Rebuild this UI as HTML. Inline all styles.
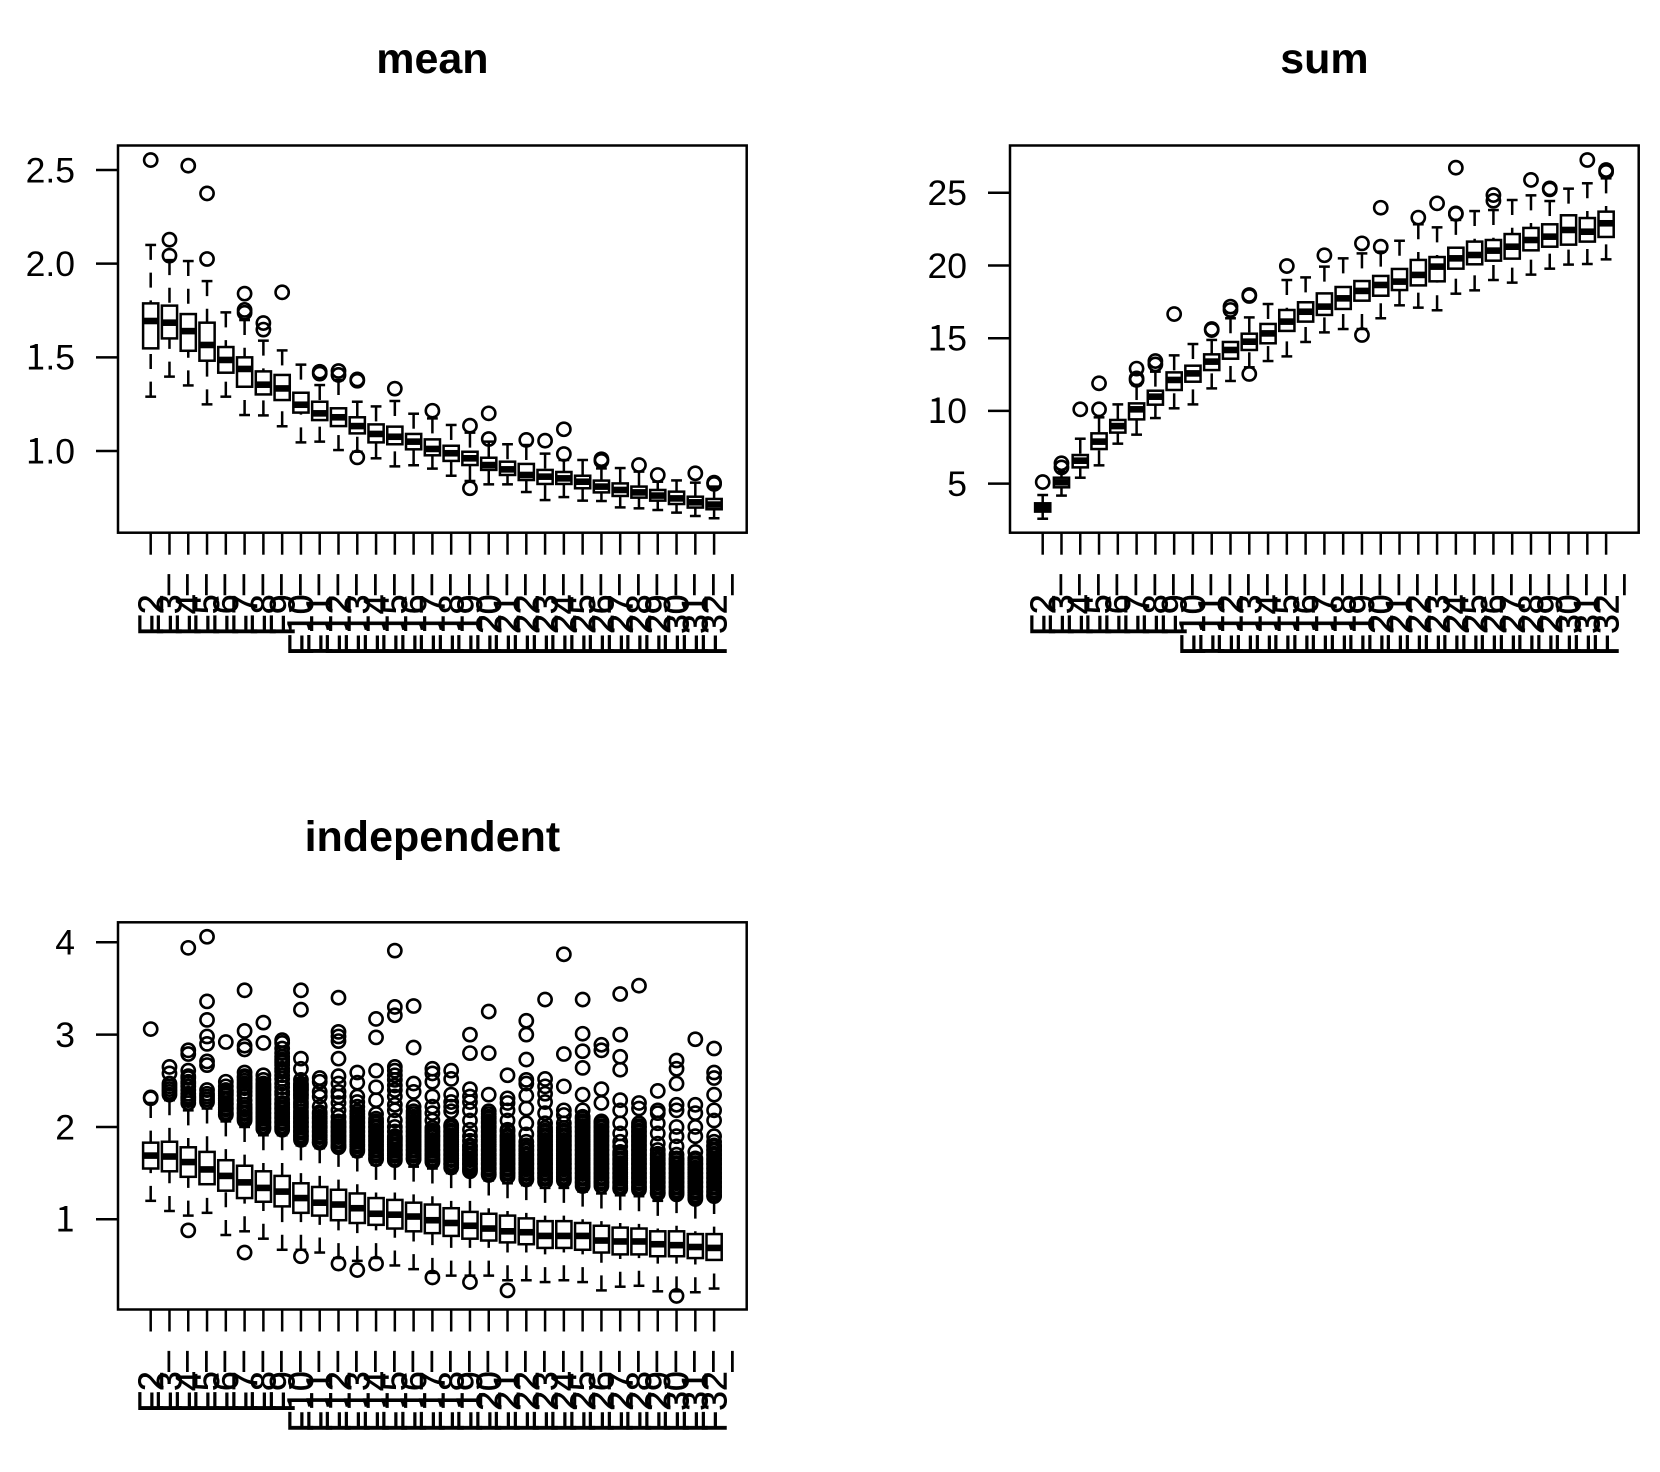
<!DOCTYPE html>
<html>
<head>
<meta charset="utf-8">
<title>Boxplots: mean, sum, independent</title>
<style>
html,body{margin:0;padding:0;background:#fff;width:1660px;height:1472px;overflow:hidden}
svg{display:block}
text{font-family:"Liberation Sans",Arial,sans-serif;fill:#000}
</style>
</head>
<body>
<svg id="chart" xmlns="http://www.w3.org/2000/svg" width="1660" height="1472" viewBox="0 0 1660 1472">
<rect x="0" y="0" width="1660" height="1472" fill="#fff"/>
<text x="432.4" y="73" font-size="43" font-weight="bold" text-anchor="middle">mean</text>
<text x="1330.4" y="73" font-size="43" font-weight="bold" text-anchor="middle" transform="translate(-6 0)">sum</text>
<text x="432.4" y="850.8" font-size="43" font-weight="bold" text-anchor="middle">independent</text>
</svg>
<script>
const categories = ["F2_","F3_","F4_","F5_","F6_","F7_","F8_","F9_","F10_","F11_","F12_","F13_","F14_","F15_","F16_","F17_","F18_","F19_","F20_","F21_","F22_","F23_","F24_","F25_","F26_","F27_","F28_","F29_","F30_","F31_","F32_"];

const meanTicks = ["1.0","1.5","2.0","2.5"];
const sumTicks = ["5","10","15","20","25"];
const independentTicks = ["1","2","3","4"];

// each row: lower whisker, Q1, median, Q3, upper whisker
const meanStats = [
[1.290,1.548,1.694,1.788,2.100],[1.397,1.601,1.685,1.776,2.019],[1.350,1.535,1.640,1.731,2.014],[1.249,1.482,1.566,1.685,1.907],
[1.290,1.418,1.486,1.555,1.740],[1.192,1.343,1.438,1.500,1.699],[1.190,1.302,1.354,1.425,1.589],[1.132,1.272,1.334,1.406,1.537],
[1.046,1.205,1.247,1.311,1.461],[1.050,1.165,1.201,1.263,1.352],[1.005,1.133,1.180,1.228,1.379],[0.996,1.094,1.133,1.180,1.263],
[0.961,1.046,1.091,1.142,1.238],[0.918,1.036,1.076,1.130,1.267],[0.924,1.009,1.050,1.091,1.199],[0.906,0.977,1.011,1.062,1.174],
[0.868,0.947,0.988,1.028,1.139],[0.840,0.925,0.961,0.996,1.098],[0.822,0.899,0.925,0.964,1.050],[0.822,0.872,0.902,0.943,1.036],
[0.781,0.845,0.872,0.931,1.032],[0.738,0.824,0.863,0.899,0.986],[0.754,0.824,0.854,0.888,0.952],[0.735,0.801,0.836,0.868,0.952],
[0.733,0.779,0.810,0.842,0.907],[0.699,0.760,0.792,0.827,0.909],[0.694,0.751,0.779,0.810,0.890],[0.685,0.735,0.762,0.792,0.836],
[0.671,0.717,0.747,0.783,0.843],[0.653,0.698,0.726,0.756,0.831],[0.641,0.689,0.714,0.744,0.810]
];
const meanOutliers = [
[2.553],[2.128,2.043],[2.523],[2.375,2.025],[],[1.840,1.753,1.738],[1.683,1.648],[1.847],[],[1.423,1.413],[1.427,1.406],[1.382,1.375,0.966],
[],[1.333],[],[1.215],[],[1.135,0.801],[1.201,1.064],[],[1.059],[1.055],[1.116,0.984],[],[0.956,0.947],[],[0.925],[0.872],[],[0.881],[0.831,0.824]
];

const sumStats = [
[2.59,3.08,3.35,3.65,4.22],[4.18,4.75,5.09,5.41,5.82],[5.41,6.12,6.58,6.97,8.09],[6.26,7.38,7.89,8.46,9.56],
[7.75,8.51,8.96,9.38,10.45],[8.37,9.42,10.11,10.52,11.78],[9.51,10.43,10.98,11.39,12.70],[10.18,11.44,12.13,12.65,13.82],
[10.45,12.01,12.58,13.11,14.60],[11.55,12.81,13.39,13.89,14.88],[12.06,13.59,14.19,14.74,16.37],[13.00,14.19,14.76,15.31,16.43],
[13.43,14.65,15.33,15.98,17.35],[13.75,15.50,16.14,16.94,19.00],[14.74,16.14,16.82,17.47,19.18],[15.40,16.60,17.17,18.08,19.92],
[15.63,17.01,17.74,18.52,20.49],[15.63,17.58,18.25,18.93,20.83],[16.37,17.92,18.66,19.28,20.95],[17.26,18.31,18.89,19.76,21.70],
[17.10,18.63,19.35,20.38,22.83],[16.92,18.91,19.92,20.58,22.62],[18.06,19.78,20.49,21.22,23.13],[18.29,20.08,20.72,21.64,23.74],
[19.00,20.33,21.02,21.75,23.81],[18.82,20.47,21.29,22.16,24.50],[19.37,21.04,21.75,22.58,24.82],[19.78,21.29,21.98,22.83,24.43],
[20.06,21.43,22.44,23.45,25.28],[20.10,21.64,22.32,23.26,25.65],[20.42,21.96,22.90,23.70,25.99]
];
const sumOutliers = [
[5.11],[6.40,6.12],[10.11],[11.90,10.11],[],[12.91,12.24,12.13],[13.43,13.20],[16.66],[],[15.63,15.56],[17.17,16.94],[17.97,17.90,12.54],
[],[19.96],[],[20.70],[],[21.52,15.22],[23.97,21.29],[],[23.29],[24.27],[26.72,23.58,23.54],[],[24.84,24.45],[],[25.88],[25.30,25.23],[],[27.25],[26.56,26.43]
];

const independentStats = [
[1.20,1.55,1.69,1.83,2.26],[1.09,1.52,1.68,1.84,2.29],[1.04,1.46,1.62,1.78,2.18],[1.07,1.38,1.54,1.73,2.20],
[0.83,1.31,1.47,1.64,2.06],[0.87,1.23,1.40,1.58,2.00],[0.79,1.19,1.34,1.52,1.91],[0.67,1.14,1.30,1.47,1.91],
[0.67,1.07,1.23,1.39,1.80],[0.64,1.04,1.18,1.35,1.77],[0.58,0.99,1.16,1.32,1.73],[0.55,0.96,1.12,1.28,1.68],
[0.58,0.94,1.06,1.23,1.59],[0.50,0.90,1.05,1.21,1.59],[0.46,0.87,1.03,1.18,1.57],[0.42,0.85,0.99,1.16,1.55],
[0.39,0.82,0.96,1.12,1.50],[0.39,0.79,0.93,1.08,1.50],[0.39,0.77,0.90,1.06,1.42],[0.34,0.75,0.87,1.04,1.39],
[0.34,0.73,0.86,1.01,1.37],[0.32,0.69,0.82,0.98,1.34],[0.34,0.69,0.82,0.98,1.34],[0.32,0.67,0.82,0.96,1.30],
[0.23,0.64,0.77,0.93,1.28],[0.27,0.62,0.76,0.91,1.26],[0.28,0.62,0.76,0.90,1.25],[0.22,0.60,0.73,0.87,1.20],
[0.22,0.60,0.72,0.87,1.23],[0.21,0.58,0.70,0.84,1.17],[0.25,0.56,0.69,0.84,1.22]
];
const independentOutliers = [
[3.06,2.32,2.31],
[2.65,2.58,2.47,2.44,2.41,2.38,2.35],
[3.94,2.83,2.79,2.61,2.55,2.53,2.49,2.47,2.44,2.40,2.36,2.33,2.31,2.29,2.26,0.88],
[4.06,3.36,3.16,2.98,2.90,2.71,2.67,2.40,2.36,2.33,2.30,2.27],
[2.92,2.49,2.44,2.40,2.38,2.36,2.34,2.31,2.29,2.26,2.24,2.21,2.19,2.16,2.14,2.13],
[3.48,3.04,2.88,2.84,2.59,2.55,2.53,2.50,2.47,2.44,2.42,2.38,2.34,2.29,2.24,2.21,2.19,2.16,2.14,2.11,2.09,2.07,0.64],
[3.13,2.91,2.56,2.51,2.47,2.45,2.43,2.41,2.39,2.36,2.34,2.31,2.29,2.26,2.24,2.21,2.19,2.16,2.14,2.11,2.09,2.06,2.04,2.01,1.99,1.98],
[2.94,2.91,2.85,2.80,2.76,2.73,2.70,2.67,2.63,2.60,2.56,2.52,2.47,2.43,2.38,2.35,2.30,2.26,2.24,2.21,2.19,2.16,2.14,2.11,2.09,2.06,2.04,2.01,1.99,1.97],
[3.48,3.27,2.74,2.63,2.51,2.47,2.45,2.43,2.41,2.39,2.36,2.34,2.31,2.27,2.24,2.21,2.17,2.14,2.11,2.09,2.06,2.04,2.01,1.99,1.96,1.94,1.91,1.89,1.86,0.60],
[2.53,2.49,2.38,2.33,2.22,2.16,2.14,2.11,2.09,2.06,2.04,2.01,1.99,1.96,1.94,1.91,1.89,1.86,1.84,1.83],
[3.40,3.03,2.98,2.93,2.74,2.55,2.47,2.38,2.33,2.26,2.18,2.11,2.06,2.04,2.01,1.99,1.96,1.94,1.91,1.89,1.86,1.84,1.81,1.79,1.78,0.52],
[2.59,2.48,2.33,2.27,2.22,2.17,2.14,2.11,2.09,2.06,2.04,2.01,1.99,1.96,1.94,1.91,1.89,1.86,1.84,1.81,1.79,1.76,1.74,0.45],
[3.17,2.97,2.61,2.43,2.29,2.14,2.09,2.06,2.04,2.01,1.99,1.96,1.94,1.91,1.89,1.86,1.84,1.81,1.79,1.76,1.74,1.71,1.69,1.66,1.65,0.52],
[3.91,3.30,3.21,2.65,2.61,2.56,2.51,2.45,2.40,2.33,2.24,2.18,2.07,2.00,1.95,1.90,1.88,1.86,1.84,1.81,1.79,1.76,1.74,1.71,1.69,1.66,1.64],
[3.31,2.86,2.47,2.38,2.22,2.17,2.14,2.11,2.09,2.06,2.04,2.01,1.99,1.96,1.94,1.91,1.89,1.86,1.84,1.81,1.79,1.76,1.74,1.71,1.69,1.66,1.65],
[2.63,2.58,2.49,2.33,2.22,2.15,2.07,1.99,1.96,1.94,1.91,1.89,1.86,1.84,1.81,1.79,1.76,1.74,1.71,1.69,1.66,1.64,1.62,0.37],
[2.61,2.52,2.35,2.27,2.22,2.17,2.02,2.01,1.99,1.96,1.94,1.91,1.89,1.86,1.84,1.81,1.79,1.76,1.74,1.71,1.69,1.66,1.64,1.61,1.59,1.56],
[3.00,2.80,2.41,2.33,2.27,2.18,2.07,1.97,1.90,1.85,1.80,1.79,1.76,1.74,1.71,1.69,1.66,1.64,1.61,1.59,1.56,1.54,1.52,0.32],
[3.25,2.80,2.35,2.17,2.14,2.11,2.09,2.06,2.04,2.01,1.99,1.96,1.94,1.91,1.89,1.86,1.84,1.81,1.79,1.76,1.74,1.71,1.69,1.66,1.64,1.61,1.59,1.56,1.54,1.51,1.49,1.48],
[2.56,2.31,2.26,2.18,2.07,1.97,1.95,1.91,1.89,1.86,1.84,1.81,1.79,1.76,1.74,1.71,1.69,1.66,1.64,1.61,1.59,1.56,1.54,1.51,1.49,1.46,0.23],
[3.15,3.00,2.73,2.51,2.47,2.34,2.20,2.04,1.92,1.84,1.80,1.79,1.76,1.74,1.71,1.69,1.66,1.64,1.61,1.59,1.56,1.54,1.51,1.49,1.46,1.44,1.43],
[3.38,2.52,2.44,2.36,2.27,2.15,2.04,1.99,1.96,1.94,1.91,1.89,1.86,1.84,1.81,1.79,1.76,1.74,1.71,1.69,1.66,1.64,1.61,1.59,1.56,1.54,1.51,1.49,1.46,1.44,1.41],
[3.87,2.79,2.44,2.18,2.13,2.04,1.99,1.96,1.94,1.91,1.89,1.86,1.84,1.81,1.79,1.76,1.74,1.71,1.69,1.66,1.64,1.61,1.59,1.56,1.54,1.51,1.49,1.46,1.44,1.42],
[3.38,3.01,2.82,2.64,2.35,2.18,2.11,2.09,2.06,2.04,2.01,1.99,1.96,1.94,1.91,1.89,1.86,1.84,1.81,1.79,1.76,1.74,1.71,1.69,1.66,1.64,1.61,1.59,1.56,1.54,1.51,1.49,1.46,1.44,1.41,1.39,1.36],
[2.89,2.83,2.41,2.26,2.06,2.04,2.01,1.99,1.96,1.94,1.91,1.89,1.86,1.84,1.81,1.79,1.76,1.74,1.71,1.69,1.66,1.64,1.61,1.59,1.56,1.54,1.51,1.49,1.46,1.44,1.41,1.39,1.36],
[3.44,3.00,2.76,2.62,2.29,2.18,2.04,1.93,1.84,1.79,1.73,1.71,1.69,1.66,1.64,1.61,1.59,1.56,1.54,1.51,1.49,1.46,1.44,1.41,1.39,1.36,1.34,1.33],
[3.53,2.26,2.20,2.04,2.01,1.99,1.96,1.94,1.91,1.89,1.86,1.84,1.81,1.79,1.76,1.74,1.71,1.69,1.66,1.64,1.61,1.59,1.56,1.54,1.51,1.49,1.46,1.44,1.41,1.39,1.36,1.34,1.32],
[2.39,2.18,2.15,2.04,1.93,1.82,1.75,1.71,1.69,1.66,1.64,1.61,1.59,1.56,1.54,1.51,1.49,1.46,1.44,1.41,1.39,1.36,1.34,1.31,1.29,1.28],
[2.72,2.63,2.47,2.24,2.18,2.00,1.90,1.79,1.70,1.66,1.64,1.61,1.59,1.56,1.54,1.51,1.49,1.46,1.44,1.41,1.39,1.36,1.34,1.31,1.29,1.27,0.17],
[2.95,2.24,2.15,2.00,1.90,1.73,1.66,1.64,1.61,1.59,1.56,1.54,1.51,1.49,1.46,1.44,1.41,1.39,1.36,1.34,1.31,1.29,1.26,1.24,1.22],
[2.85,2.59,2.53,2.35,2.18,2.07,1.90,1.84,1.80,1.79,1.76,1.74,1.71,1.69,1.66,1.64,1.61,1.59,1.56,1.54,1.51,1.49,1.46,1.44,1.41,1.39,1.36,1.34,1.31,1.29,1.26,1.25]
];

const svgNS = "http://www.w3.org/2000/svg";
const svg = document.getElementById("chart");

function add(parent, tag, attrs) {
  const el = document.createElementNS(svgNS, tag);
  for (const k in attrs) el.setAttribute(k, attrs[k]);
  parent.appendChild(el);
  return el;
}

// The reference font's "1" has no foot serif; the CJK sans "1" is the closest installed shape.
function setLabelText(textEl, label) {
  label.split(/(1)/).forEach(function (part) {
    if (part === "") return;
    if (part === "1") {
      const span = add(textEl, "tspan", { "font-family": '"Noto Sans CJK JP","Liberation Sans",sans-serif' });
      span.textContent = part;
    } else {
      textEl.appendChild(document.createTextNode(part));
    }
  });
}

function drawPanel(name, left, top, refValue, refY, pxPerUnit, ticks, stats, outliers) {
  const right = left + 628.7;
  const bottom = top + 387.2;
  const lw = 2.5;
  const xScale = function (i) { return left + 32.7 + 18.78 * i; };
  const yScale = function (v) { return refY - (v - refValue) * pxPerUnit; };
  const ink = { stroke: "#000", fill: "none" };

  const panel = add(svg, "g", {});
  
  

  // y axis
  ticks.forEach(function (label) {
    const y = yScale(parseFloat(label));
    const tick = add(panel, "line", { x1: left - 22, x2: left, y1: y, y2: y, stroke: "#000", "stroke-width": lw });
    
    
    const text = add(panel, "text", { x: left - 43, y: y + 12.3, "font-size": 35.5, "text-anchor": "end" });
    setLabelText(text, label);
    
    
  });

  // x axis
  categories.forEach(function (label, i) {
    const x = xScale(i);
    const tick = add(panel, "line", { x1: x, x2: x, y1: bottom, y2: bottom + 22, stroke: "#000", "stroke-width": lw });
    
    
    const labelY = bottom + 42;
    const text = add(panel, "text", {
      x: 0, y: 0, "font-size": 35.5, "text-anchor": "end",
      stroke: "#000", "stroke-width": 0.5,
      transform: "translate(" + (x + 12.2) + " " + labelY + ") rotate(-90)"
    });
    setLabelText(text, label);
    
    
  });

  // boxes
  stats.forEach(function (row, i) {
    const x = xScale(i);
    const low = yScale(row[0]), q1 = yScale(row[1]), med = yScale(row[2]), q3 = yScale(row[3]), high = yScale(row[4]);
    const group = add(panel, "g", ink);
    
    

    add(group, "line", { x1: x, x2: x, y1: high, y2: q3, "stroke-width": lw, "stroke-dasharray": "15 12.7" });
    add(group, "line", { x1: x, x2: x, y1: low, y2: q1, "stroke-width": lw, "stroke-dasharray": "15 12.7" });
    add(group, "line", { x1: x - 5.4, x2: x + 5.4, y1: high, y2: high, "stroke-width": lw });
    add(group, "line", { x1: x - 5.4, x2: x + 5.4, y1: low, y2: low, "stroke-width": lw });
    add(group, "rect", { x: x - 7.6, y: q3, width: 15.2, height: q1 - q3, "stroke-width": lw });
    add(group, "line", { x1: x - 7.6, x2: x + 7.6, y1: med, y2: med, "stroke-width": 6.6 });

    outliers[i].forEach(function (v) {
      const c = add(group, "circle", { cx: x, cy: yScale(v), r: 6.6, "stroke-width": 2.6 });
      
      
    });
  });

  // frame
  const frame = add(panel, "rect", { x: left, y: top, width: right - left, height: bottom - top, fill: "none", stroke: "#000", "stroke-width": lw });
  
  
}

drawPanel("mean", 118, 145.5, 1, 451, 187.33, meanTicks, meanStats, meanOutliers);
drawPanel("sum", 1010, 145.5, 5, 483.67, 14.547, sumTicks, sumStats, sumOutliers);
drawPanel("independent", 118, 922.3, 1, 1219.3, 92.33, independentTicks, independentStats, independentOutliers);
</script>
</body>
</html>
